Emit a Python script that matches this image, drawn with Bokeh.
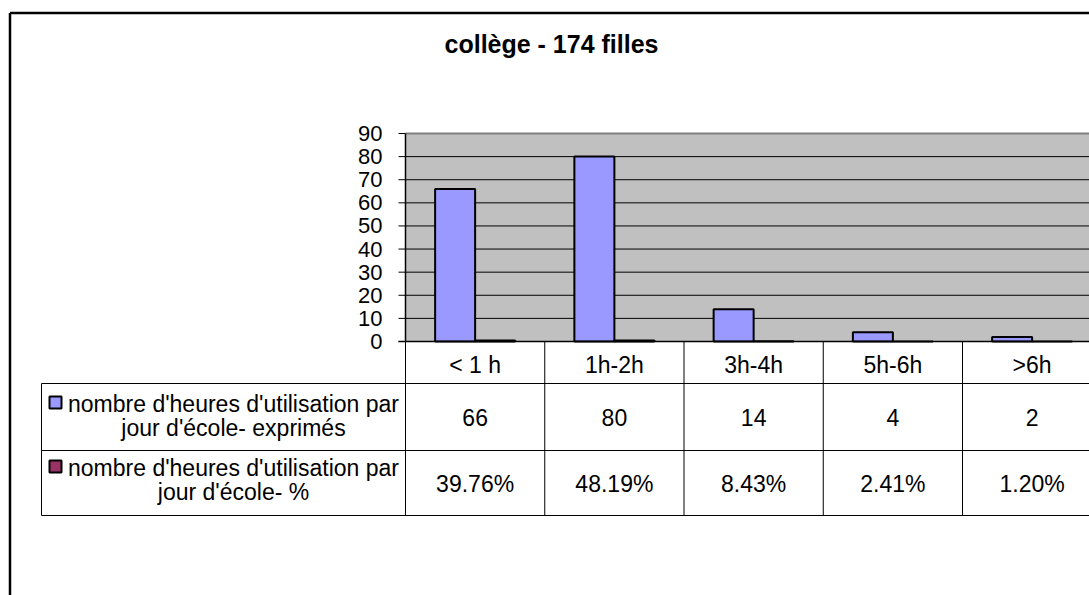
from bokeh.plotting import figure
from bokeh.models import Range1d
from bokeh.embed import file_html
from bokeh.resources import INLINE
from bokeh.core.properties import value

# ---------------- data ----------------
title_text = "collège - 174 filles"
categories = ["< 1 h", "1h-2h", "3h-4h", "5h-6h", ">6h"]
counts = [66, 80, 14, 4, 2]
percents = [0.3976, 0.4819, 0.0843, 0.0241, 0.0120]
series_labels = [
    ["nombre d'heures d'utilisation par", "jour d'école- exprimés"],
    ["nombre d'heures d'utilisation par", "jour d'école- %"],
]
series_colors = ["#9999FF", "#993366"]
y_ticks = [0, 10, 20, 30, 40, 50, 60, 70, 80, 90]

count_labels = [str(v) for v in counts]
percent_labels = [f"{v * 100:.2f}%" for v in percents]

FONT = value("Liberation Sans")
W, H = 1089, 595

# main ranges: x in category units (column i spans [i, i+1]), y in values
px_per_cat = 139.25
px_per_unit = 208.0 / 90.0
x0_page, y0_page = 405.0, 341.0
x_range = Range1d((0 - x0_page) / px_per_cat, (W - x0_page) / px_per_cat)
y_range = Range1d((y0_page - H) / px_per_unit, (y0_page - 0) / px_per_unit)

p = figure(width=W, height=H, x_range=x_range, y_range=y_range,
           x_axis_type=None, y_axis_type=None, toolbar_location=None,
           output_backend="svg", min_border=0, outline_line_color=None,
           background_fill_color="white", border_fill_color="white")
p.grid.visible = False
# page-pixel ranges for layout items (table, border, title)
p.extra_x_ranges = {"px": Range1d(0, W)}
p.extra_y_ranges = {"px": Range1d(H, 0)}

n = len(categories)
centers = [i + 0.5 for i in range(n)]
dodge = 20.0 / px_per_cat
bw = 40.0 / px_per_cat
ymax = y_ticks[-1]

# outer chart border (left & top visible, rest out of view)
p.segment(x0=[9.5, 9.5], y0=[12.5, 12.5], x1=[9.5, 1200], y1=[700, 12.5],
          x_range_name="px", y_range_name="px", line_color="black", line_width=2.5)

# title
p.text(x=[551], y=[43], text=[title_text], x_range_name="px", y_range_name="px",
       text_font=FONT, text_font_size="25px", text_font_style="bold",
       text_align="center", text_baseline="alphabetic", text_color="black")

# plot area
p.quad(left=[0], right=[n + 1], bottom=[0], top=[ymax], fill_color="#C0C0C0",
       line_color=None)
grid_vals = [v for v in y_ticks if 0 < v < ymax]
p.segment(x0=[0] * len(grid_vals), x1=[n + 1] * len(grid_vals), y0=grid_vals,
          y1=grid_vals, line_color="black", line_width=1)
p.segment(x0=[0], x1=[n + 1], y0=[ymax], y1=[ymax], line_color="#808080", line_width=2)

# bars
p.vbar(x=[c - dodge for c in centers], top=counts, width=bw, bottom=0,
       fill_color=series_colors[0], line_color="black", line_width=2)
p.vbar(x=[c + dodge for c in centers], top=percents, width=bw, bottom=0,
       fill_color=series_colors[1], line_color="black", line_width=2)

# y axis: line, ticks, labels
p.segment(x0=[0], x1=[0], y0=[0], y1=[ymax], line_color="black", line_width=1.5)
p.segment(x0=[398] * len(y_ticks), x1=[405] * len(y_ticks), y0=y_ticks, y1=y_ticks,
          x_range_name="px", line_color="black", line_width=1)
p.text(x=[382] * len(y_ticks), y=y_ticks, text=[str(v) for v in y_ticks],
       x_range_name="px", text_font=FONT, text_font_size="22px",
       text_align="right", text_baseline="alphabetic", text_color="black")
# x axis line
p.segment(x0=[398], x1=[1200], y0=[341], y1=[341], x_range_name="px",
          y_range_name="px", line_color="black", line_width=1.5)

# data table grid
rows_y = [383, 450, 515]
p.segment(x0=[41] * 3, x1=[1200] * 3, y0=rows_y, y1=rows_y, x_range_name="px",
          y_range_name="px", line_color="black", line_width=1)
p.segment(x0=[41], x1=[41], y0=[383], y1=[515], x_range_name="px",
          y_range_name="px", line_color="black", line_width=1)
seps = list(range(n + 1))
p.segment(x0=seps, x1=seps, y0=[341] * len(seps), y1=[515] * len(seps),
          y_range_name="px", line_color="black", line_width=1)

TS = "23px"
# category header
p.text(x=centers, y=[364] * n, text=categories, y_range_name="px",
       text_font=FONT, text_font_size=TS, text_align="center",
       text_baseline="alphabetic", text_color="black")
# values rows
p.text(x=centers, y=[417] * n, text=count_labels, y_range_name="px",
       text_font=FONT, text_font_size=TS, text_align="center",
       text_baseline="alphabetic", text_color="black")
p.text(x=centers, y=[483] * n, text=percent_labels, y_range_name="px",
       text_font=FONT, text_font_size=TS, text_align="center",
       text_baseline="alphabetic", text_color="black")

# series labels with legend keys
label_lines_y = [(403, 427), (467, 491)]
key_y = [402, 466]
for k in range(2):
    l1, l2 = label_lines_y[k]
    p.text(x=[233, 233], y=[l1, l2], text=series_labels[k], x_range_name="px",
           y_range_name="px", text_font=FONT, text_font_size=TS,
           text_align="center", text_baseline="alphabetic", text_color="black")
    p.scatter(x=[55], y=[key_y[k]], marker="square", size=12,
              fill_color=series_colors[k], line_color="black", line_width=2,
              x_range_name="px", y_range_name="px")

open("out.html", "w").write(file_html(p, INLINE))
